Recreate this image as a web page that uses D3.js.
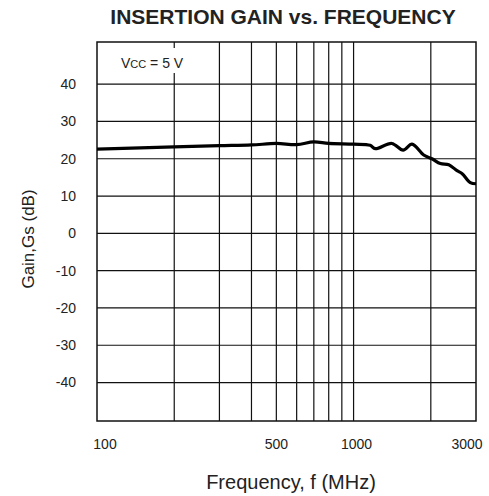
<!DOCTYPE html>
<html lang="en">
<head>
    <meta charset="UTF-8">
    <script src="https://d3js.org/d3.v7.min.js"></script>
    <title>Insertion Gain vs. Frequency</title>
    <style>
        body {
            margin: 0;
            background: #fff;
            font-family: "Liberation Sans", Arial, sans-serif;
        }
        .grid line { stroke: #111; stroke-width: 1.2px; }
        .tick-label { font-size: 14px; fill: #222; }
    </style>
</head>
<body>
<div id="chart"></div>
<script>
    // curve
    const freqMHz = [100, 200, 300, 400, 500, 600, 700, 800, 1000, 1160, 1215, 1410, 1560, 1690, 1876, 2020, 2180, 2350, 2530, 2650, 2850, 3000];
    const gainDb  = [22.6, 23.2, 23.5, 23.7, 24.1, 23.8, 24.5, 24.1, 23.9, 23.6, 22.7, 24.1, 22.3, 23.9, 21.0, 20.0, 18.7, 18.4, 16.8, 16.0, 13.6, 13.3];

    const xGrid = [200, 300, 400, 500, 600, 700, 800, 900, 1000, 2000];
    const xTickLabels = [100, 500, 1000, 3000];
    const yTicks = [40, 30, 20, 10, 0, -10, -20, -30, -40];

    const width = 489, height = 496;
    const plot = {left: 97, right: 476, top: 42, bottom: 421};

    const svg = d3.select("#chart").append("svg")
        .attr("width", width)
        .attr("height", height);

    const x = d3.scaleLog()
        .domain([100, 3000])
        .range([plot.left, plot.right]);

    const y = d3.scaleLinear()
        .domain([-50.3, 51.3])
        .range([plot.bottom, plot.top]);

    // grid
    const grid = svg.append("g").attr("class", "grid");
    grid.selectAll(".vx")
        .data(xGrid)
        .enter().append("line")
        .attr("x1", d => x(d)).attr("x2", d => x(d))
        .attr("y1", plot.top).attr("y2", plot.bottom);
    grid.selectAll(".hy")
        .data(yTicks)
        .enter().append("line")
        .attr("x1", plot.left).attr("x2", plot.right)
        .attr("y1", d => y(d)).attr("y2", d => y(d));

    // frame
    svg.append("rect")
        .attr("x", plot.left).attr("y", plot.top)
        .attr("width", plot.right - plot.left)
        .attr("height", plot.bottom - plot.top)
        .attr("fill", "none")
        .attr("stroke", "#111")
        .attr("stroke-width", 1.5);

    // y tick labels
    svg.selectAll(".ylab")
        .data(yTicks)
        .enter().append("text")
        .attr("class", "tick-label")
        .attr("x", plot.left - 21)
        .attr("y", d => y(d))
        .attr("dy", "0.35em")
        .attr("text-anchor", "end")
        .text(d => d);

    // x tick labels (nudged like the original)
    const nudge = {100: 8, 500: 0, 1000: 3, 3000: -9};
    svg.selectAll(".xlab")
        .data(xTickLabels)
        .enter().append("text")
        .attr("class", "tick-label")
        .attr("x", d => x(d) + nudge[d])
        .attr("y", plot.bottom + 28)
        .attr("text-anchor", "middle")
        .text(d => d);

    // annotation
    const note = svg.append("g");
    note.append("rect")
        .attr("x", 117).attr("y", 48)
        .attr("width", 78).attr("height", 25)
        .attr("fill", "#fff");
    const noteText = note.append("text")
        .attr("x", 121).attr("y", 68)
        .style("font-size", "14px")
        .attr("fill", "#222");
    noteText.append("tspan").text("V");
    noteText.append("tspan").style("font-size", "11px").text("CC");
    noteText.append("tspan").text(" = 5 V");

    // gain curve
    const line = d3.line()
        .x((d, i) => x(freqMHz[i]))
        .y(d => y(d))
        .curve(d3.curveCatmullRom.alpha(0.5));

    svg.append("path")
        .datum(gainDb)
        .attr("d", line)
        .attr("fill", "none")
        .attr("stroke", "#000")
        .attr("stroke-width", 3.2)
        .attr("stroke-linejoin", "round");

    // titles
    svg.append("text")
        .attr("x", 283).attr("y", 24)
        .attr("text-anchor", "middle")
        .style("font-size", "21px")
        .style("font-weight", "bold")
        .attr("fill", "#222")
        .text("INSERTION GAIN vs. FREQUENCY");

    svg.append("text")
        .attr("x", 291).attr("y", 489)
        .attr("text-anchor", "middle")
        .style("font-size", "20px")
        .attr("fill", "#222")
        .text("Frequency, f (MHz)");

    svg.append("text")
        .attr("transform", "translate(34,239) rotate(-90)")
        .attr("text-anchor", "middle")
        .style("font-size", "17px")
        .attr("fill", "#222")
        .text("Gain,Gs (dB)");
</script>
</body>
</html>
